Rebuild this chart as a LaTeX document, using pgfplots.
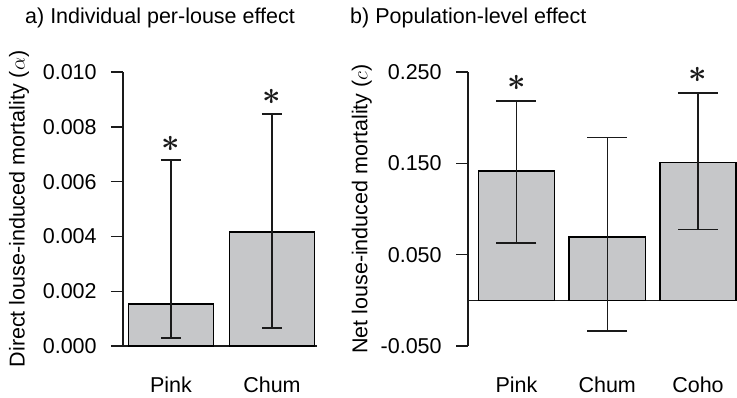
\documentclass[border=0pt]{standalone}
\usepackage{pgfplots}
\pgfplotsset{compat=1.18}
\usepackage{bm}
\usepackage{fontspec}
\setmainfont{Liberation Sans}
\definecolor{barfill}{HTML}{C6C7C9}
\definecolor{ink}{HTML}{1A1A1A}

\pgfplotstableread{
x y ep em
0 0.00153 0.00526 0.00124
1 0.00417 0.00430 0.00351
}\lefttab

\pgfplotstableread{
x y ep em
0 0.1413 0.0770 0.0785
1 0.0693 0.1092 0.1029
2 0.1511 0.0760 0.0737
}\righttab

\newcommand{\sigstar}{\scalebox{1.55}{$\bm{\ast}$}}
\tikzset{sigstar/.style={inner sep=0pt, text=ink}}

\pgfplotsset{
  mystyle/.style={
    scale only axis,
    axis y line*=left, axis x line*=bottom,
    tick align=outside, major tick length=12pt,
    every tick/.style={ink, line width=1.4pt},
    axis line style={ink, line width=1.4pt},
    x tick style={draw=none},
    xticklabel style={anchor=base, yshift=-34pt},
    yticklabel style={xshift=-7pt},
    scaled y ticks=false,
    /pgf/number format/assume math mode=true,
    clip=false,
    height=274pt,
  },
  mybar/.style={
    ybar, bar width=0.84, fill=barfill, draw=black, line width=1.6pt,
    error bars/.cd, y dir=both, y explicit,
    error bar style={ink, line width=1.4pt},
    error mark options={ink, line width=1.4pt, mark size=#1, rotate=90},
  },
}

\begin{document}
\fontsize{21.5}{25}\selectfont
\begin{tikzpicture}
\begin{axis}[mystyle,
  at={(123pt,-346pt)}, anchor=south west,
  width=194pt,
  xmin=-0.475, xmax=1.446,
  ymin=0, ymax=0.010,
  xtick={0,1}, xticklabels={Pink,Chum},
  ytick={0,0.002,0.004,0.006,0.008,0.010},
  yticklabels={0.000,0.002,0.004,0.006,0.008,0.010},
  ylabel={Direct louse-induced mortality ($\alpha$)},
  every axis y label/.style={at={(axis description cs:-0.536,0.5)}, rotate=90, anchor=center},
]
\addplot[mybar=10pt] table[x=x, y=y, y error plus=ep, y error minus=em] {\lefttab};
\node[sigstar] at (axis cs:0,0.00737) {\sigstar};
\node[sigstar] at (axis cs:1,0.00909) {\sigstar};
\end{axis}

\begin{axis}[mystyle,
  at={(468pt,-346pt)}, anchor=south west,
  width=268pt,
  xmin=-0.534, xmax=2.419,
  ymin=-0.05, ymax=0.25,
  x axis line style={draw=none},
  xtick={0,1,2}, xticklabels={Pink,Chum,Coho},
  ytick={-0.05,0.05,0.15,0.25},
  yticklabels={-0.050,0.050,0.150,0.250},
  ylabel={Net louse-induced mortality ($c$)},
  every axis y label/.style={at={(axis description cs:-0.396,0.5)}, rotate=90, anchor=center},
]
\draw[ink, line width=0.9pt] (axis cs:-0.534,0) -- (axis cs:2.419,0);
\addplot[mybar=20pt] table[x=x, y=y, y error plus=ep, y error minus=em] {\righttab};
\node[sigstar] at (axis cs:0,0.2377) {\sigstar};
\node[sigstar] at (axis cs:2,0.2464) {\sigstar};
\end{axis}

\node[anchor=base west, inner sep=0pt] at (25pt,-23.5pt) {a) Individual per-louse effect};
\node[anchor=base west, inner sep=0pt] at (350pt,-23.5pt) {b) Population-level effect};

\pgfresetboundingbox
\path[use as bounding box] (0pt,0pt) rectangle (737pt,-397pt);
\end{tikzpicture}
\end{document}
